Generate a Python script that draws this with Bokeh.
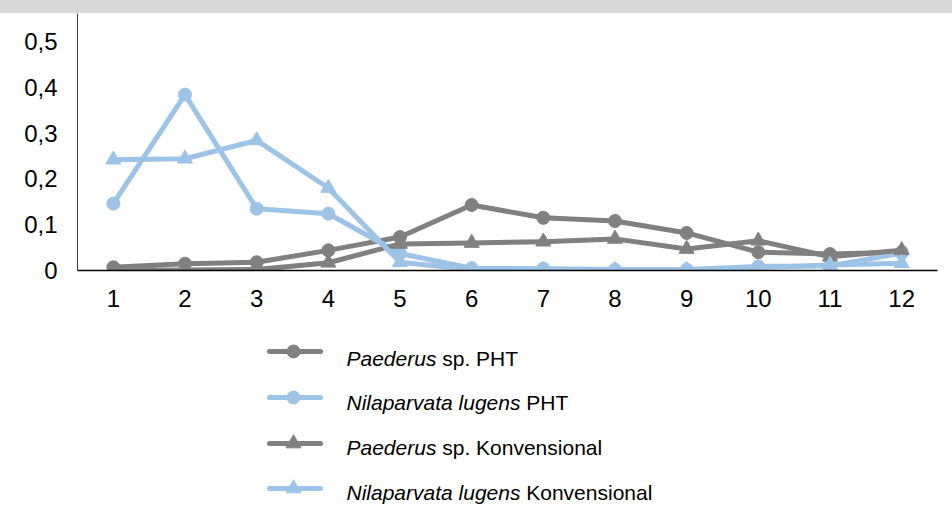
from bokeh.plotting import figure
from bokeh.models import Range1d, FixedTicker, ColumnDataSource, Div
from bokeh.layouts import column
from bokeh.core.properties import value
from bokeh.embed import file_html
from bokeh.resources import INLINE

# ---------------- data ----------------
weeks = [1, 2, 3, 4, 5, 6, 7, 8, 9, 10, 11, 12]
x_tick_labels = ["1", "2", "3", "4", "5", "6", "7", "8", "9", "10", "11", "12"]
y_ticks = [0, 0.1, 0.2, 0.3, 0.4, 0.5]
y_tick_labels = ["0", "0,1", "0,2", "0,3", "0,4", "0,5"]

paederus_pht = [0.007, 0.015, 0.018, 0.044, 0.073, 0.143, 0.115, 0.108, 0.082, 0.040, 0.036, 0.040]
nilaparvata_pht = [0.146, 0.384, 0.135, 0.124, 0.037, 0.005, 0.004, 0.002, 0.002, 0.009, 0.010, 0.038]
paederus_konv = [0.000, 0.001, 0.002, 0.017, 0.058, 0.060, 0.063, 0.069, 0.047, 0.065, 0.030, 0.044]
nilaparvata_konv = [0.242, 0.244, 0.284, 0.180, 0.018, 0.002, 0.001, 0.001, 0.001, 0.006, 0.012, 0.016]

legend_italic = ["Paederus", "Nilaparvata lugens", "Paederus", "Nilaparvata lugens"]
legend_normal = ["sp. PHT", "PHT", "sp. Konvensional", "Konvensional"]

GRAY = "#808080"
BLUE = "#9DC3E6"
BAND = "#d9d9d9"
FONT = "Liberation Sans"

series = [
    (paederus_pht, GRAY, "circle"),
    (nilaparvata_pht, BLUE, "circle"),
    (paederus_konv, GRAY, "triangle"),
    (nilaparvata_konv, BLUE, "triangle"),
]

W = 952
BL, BR = 77, 15   # left / right borders shared by all panels (frames get aligned)

# ---------------- top grey band ----------------
band = Div(text="", width=W, height=13, styles={"background-color": BAND, "margin": "0", "padding": "0"})

# ---------------- main chart ----------------
p = figure(width=W, height=315, output_backend="svg", toolbar_location=None,
           x_range=Range1d(0.5, 12.5), y_range=Range1d(0, 0.561),
           min_border_left=BL, min_border_right=BR, min_border_top=0, min_border_bottom=58)
p.outline_line_color = None
p.xgrid.grid_line_color = None
p.ygrid.grid_line_color = None
p.background_fill_color = "white"
p.border_fill_color = "white"

for ys, col, mk in series:
    src = ColumnDataSource(dict(x=weeks, y=ys))
    p.line("x", "y", source=src, line_color=col, line_width=5, line_join="round", line_cap="round")
    p.scatter("x", "y", source=src, marker=mk, size=13 if mk == "circle" else 15,
              fill_color=col, line_color=col)

p.xaxis.ticker = FixedTicker(ticks=weeks)
p.xaxis.major_label_overrides = {w: l for w, l in zip(weeks, x_tick_labels)}
p.yaxis.ticker = FixedTicker(ticks=y_ticks)
p.yaxis.major_label_overrides = {t: l for t, l in zip(y_ticks, y_tick_labels)}
for ax in (p.xaxis, p.yaxis):
    ax.major_tick_out = 0
    ax.major_tick_in = 0
    ax.minor_tick_out = 0
    ax.minor_tick_in = 0
    ax.major_label_text_font = FONT
    ax.major_label_text_font_size = "24px"
    ax.major_label_text_color = "black"
p.xaxis.axis_line_color = "black"
p.xaxis.axis_line_width = 1.5
p.yaxis.axis_line_color = "#404040"
p.yaxis.axis_line_width = 1
p.xaxis.major_label_standoff = 19
p.yaxis.major_label_standoff = 20

# ---------------- legend (separate panel, data units == page pixels) ----------------
LH = 187
lg = figure(width=W, height=LH, output_backend="svg", toolbar_location=None,
            x_range=Range1d(BL, W - BR), y_range=Range1d(LH, 0),
            x_axis_location=None, y_axis_location=None,
            min_border_left=BL, min_border_right=BR, min_border_top=0, min_border_bottom=0)
lg.xgrid.grid_line_color = None
lg.ygrid.grid_line_color = None
lg.outline_line_color = None

row_y = [23, 69, 115, 160]
base_y = [30, 74, 119, 164]
FS = 21
# approximate advance widths (em) for Arial-metric italic text + following space
italic_em = {"Paederus": 4.28 + 0.278, "Nilaparvata lugens": 8.281 + 0.278}
x0 = 346
for (ys, col, mk), ry, by, it, nm in zip(series, row_y, base_y, legend_italic, legend_normal):
    lg.segment(x0=[269], y0=[ry], x1=[320], y1=[ry], line_color=col, line_width=5, line_cap="round")
    lg.scatter(x=[293], y=[ry], marker=mk, size=13 if mk == "circle" else 15,
               fill_color=col, line_color=col)
    lg.text(x=[x0], y=[by], text=[it], text_font=value(FONT), text_font_style="italic",
            text_font_size=f"{FS}px", text_baseline="alphabetic", text_align="left", text_color="black")
    lg.text(x=[x0 + italic_em[it] * FS], y=[by], text=[nm], text_font=value(FONT),
            text_font_size=f"{FS}px", text_baseline="alphabetic", text_align="left", text_color="black")

layout = column(band, p, lg, spacing=0)
open("out.html", "w").write(file_html(layout, INLINE))
